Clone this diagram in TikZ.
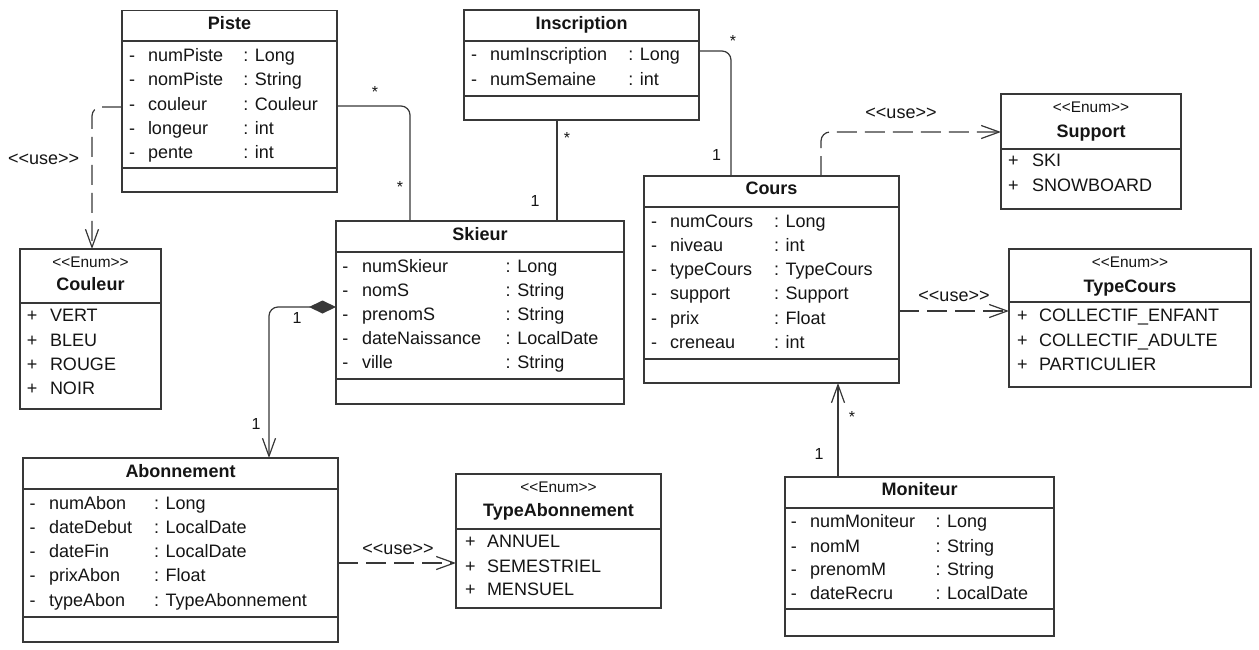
\documentclass[tikz,border=0pt]{standalone}
\usepackage{fontspec}
\setmainfont{Liberation Sans}
\usetikzlibrary{arrows.meta}
\definecolor{ln}{HTML}{383838}
\definecolor{tx}{HTML}{151515}
\newcount\txtcount
\tikzset{
  box/.style={draw=ln, line width=1.4pt, inner sep=0pt, outer sep=0pt, fill=white, anchor=north west},
  sepline/.style={draw=ln, line width=1.4pt},
  txt/.style={inner sep=0pt, outer sep=0pt, text=tx, font=\fontsize{18}{20}\selectfont, anchor=base west},
  ttl/.style={txt, font=\fontsize{18}{20}\selectfont\bfseries, anchor=base},
  ster/.style={txt, font=\fontsize{15.4}{17}\selectfont, anchor=base},
  mult/.style={txt, font=\fontsize{16}{18}\selectfont, anchor=base},
  uselbl/.style={txt, anchor=base},
  conn/.style={draw=ln, line width=1.2pt, rounded corners=9pt},
  opentip/.tip={Straight Barb[length=18pt, width=13pt, line width=1.2pt]},
  dep/.style={conn, dash pattern=on 20pt off 8pt, -opentip},
  nav/.style={conn, -opentip},
}
\newcommand\T[3][txt]{\global\advance\txtcount by 1 \node[#1] (t\the\txtcount) at #2 {#3};}
\newcommand\arow[7]{\T{(#1,{#4+6.5})}{-}\T{(#2,{#4+6.5})}{#5}\T{(#3,{#4+6.5})}{: #6}#7}
\newcommand\erow[4]{\T{(#1,{#3+6.5})}{+}\T{(#2,{#3+6.5})}{#4}}
\newcommand\cbox[7]{%
  \node[box, minimum width={#4-#2}, minimum height={#5-#3}] (#1) at (#2,#3) {};
  \draw[sepline] (#2,#6) -- (#4,#6);
  \draw[sepline] (#2,#7) -- (#4,#7);}
\newcommand\ebox[6]{%
  \node[box, minimum width={#4-#2}, minimum height={#5-#3}] (#1) at (#2,#3) {};
  \draw[sepline] (#2,#6) -- (#4,#6);}
\begin{document}
\begin{tikzpicture}[x=1pt, y=-1pt]
\fill[white] (0,0) rectangle (1259,649);
\useasboundingbox (0,0) rectangle (1259,649);

% ---------- Piste
\cbox{piste}{122}{10.7}{337}{192}{41}{168}
\T[ttl]{(229.5,29.8)}{Piste}
\arow{129}{148}{243.3}{55}{numPiste}{Long}{}
\arow{129}{148}{243.3}{79.3}{nomPiste}{String}{}
\arow{129}{148}{243.3}{103.6}{couleur}{Couleur}{}
\arow{129}{148}{243.3}{128}{longeur}{int}{}
\arow{129}{148}{243.3}{152.3}{pente}{int}{}

% ---------- Couleur
\ebox{couleur}{20}{249}{161}{409}{303}
\T[ster]{(90.5,267.5)}{<{}<Enum>{}>}
\T[ttl]{(90.5,290.5)}{Couleur}
\erow{27}{50}{315}{VERT}
\erow{27}{50}{340}{BLEU}
\erow{27}{50}{364}{ROUGE}
\erow{27}{50}{388}{NOIR}

% ---------- Inscription
\cbox{inscription}{464}{10}{699}{120}{41}{96}
\T[ttl]{(581.5,29.5)}{Inscription}
\arow{471}{490}{628.3}{54}{numInscription}{Long}{}
\arow{471}{490}{628.3}{79}{numSemaine}{int}{}

% ---------- Skieur
\cbox{skieur}{336}{221}{624}{404}{252}{379}
\T[ttl]{(480,240.5)}{Skieur}
\arow{342.3}{362}{505.7}{266}{numSkieur}{Long}{}
\arow{342.3}{362}{505.7}{290}{nomS}{String}{}
\arow{342.3}{362}{505.7}{314}{prenomS}{String}{}
\arow{342.3}{362}{505.7}{338}{dateNaissance}{LocalDate}{}
\arow{342.3}{362}{505.7}{362}{ville}{String}{}

% ---------- Cours
\cbox{cours}{644}{176}{899}{383}{207}{359}
\T[ttl]{(771.5,194.5)}{Cours}
\arow{651}{670}{774}{221}{numCours}{Long}{}
\arow{651}{670}{774}{245}{niveau}{int}{}
\arow{651}{670}{774}{269}{typeCours}{TypeCours}{}
\arow{651}{670}{774}{293}{support}{Support}{}
\arow{651}{670}{774}{318}{prix}{Float}{}
\arow{651}{670}{774}{342}{creneau}{int}{}

% ---------- Support
\ebox{support}{1001}{94}{1181}{209}{149}
\T[ster]{(1091,112.5)}{<{}<Enum>{}>}
\T[ttl]{(1091,137.5)}{Support}
\erow{1008}{1032}{160}{SKI}
\erow{1008}{1032}{185}{SNOWBOARD}

% ---------- TypeCours
\ebox{typecours}{1009}{249}{1251}{387}{302}
\T[ster]{(1130,267.5)}{<{}<Enum>{}>}
\T[ttl]{(1130,292.5)}{TypeCours}
\erow{1017}{1039}{315}{COLLECTIF\_ENFANT}
\erow{1017}{1039}{340}{COLLECTIF\_ADULTE}
\erow{1017}{1039}{364}{PARTICULIER}

% ---------- Abonnement
\cbox{abonnement}{23}{458}{338}{642}{489}{617}
\T[ttl]{(180.5,477.5)}{Abonnement}
\arow{29.5}{49}{154}{503}{numAbon}{Long}{}
\arow{29.5}{49}{154}{527}{dateDebut}{LocalDate}{}
\arow{29.5}{49}{154}{551}{dateFin}{LocalDate}{}
\arow{29.5}{49}{154}{575}{prixAbon}{Float}{}
\arow{29.5}{49}{154}{600}{typeAbon}{TypeAbonnement}{}

% ---------- TypeAbonnement
\ebox{typeabonnement}{456}{474}{661}{608}{529}
\T[ster]{(558.5,492.5)}{<{}<Enum>{}>}
\T[ttl]{(558.5,516.5)}{TypeAbonnement}
\erow{465}{487}{541}{ANNUEL}
\erow{465}{487}{566}{SEMESTRIEL}
\erow{465}{487}{589}{MENSUEL}

% ---------- Moniteur
\cbox{moniteur}{785}{477}{1054}{636}{508}{609}
\T[ttl]{(919.5,495.5)}{Moniteur}
\arow{790.8}{810}{935.5}{521}{numMoniteur}{Long}{}
\arow{790.8}{810}{935.5}{546}{nomM}{String}{}
\arow{790.8}{810}{935.5}{569}{prenomM}{String}{}
\arow{790.8}{810}{935.5}{593}{dateRecru}{LocalDate}{}

% ---------- connectors
% Piste -> Couleur (use)
\draw[dep] ([yshift=-96.3pt]piste.north west) -| ([xshift=1.5pt]couleur.north);
\T[uselbl]{(43.7,164.5)}{<{}<use>{}>}

% Piste -- Skieur
\draw[conn] ([yshift=-95.3pt]piste.north east) -| ([xshift=74pt]skieur.north west);
\T[mult]{(375,97)}{*}
\T[mult]{(400,192)}{*}

% Inscription -- Skieur
\draw[conn] ([xshift=93pt]inscription.south west) -- ([xshift=221pt]skieur.north west);
\T[mult]{(567,143)}{*}
\T[mult]{(535,206)}{1}

% Inscription -- Cours
\draw[conn] ([yshift=-41pt]inscription.north east) -| ([xshift=87pt]cours.north west);
\T[mult]{(733,46)}{*}
\T[mult]{(716.5,160)}{1}

% Cours -> Support (use)
\draw[dep] ([xshift=177pt]cours.north west) |- ([yshift=-38pt]support.north west);
\T[uselbl]{(901,118.5)}{<{}<use>{}>}

% Cours -> TypeCours (use)
\draw[dep] ([yshift=-135pt]cours.north east) -- ([yshift=-62pt]typecours.north west);
\T[uselbl]{(954,301.5)}{<{}<use>{}>}

% Moniteur -> Cours
\draw[nav] ([xshift=53pt]moniteur.north west) -- ([xshift=194pt]cours.south west);
\T[mult]{(852,422)}{*}
\T[mult]{(819,459)}{1}

% Skieur <>-> Abonnement (composition)
\draw[conn, {Diamond[length=27pt, width=13pt]}-opentip] ([yshift=-86pt]skieur.north west) -| ([xshift=246pt]abonnement.north west);
\T[mult]{(297,323)}{1}
\T[mult]{(256,429)}{1}

% Abonnement -> TypeAbonnement (use)
\draw[dep] ([yshift=-105pt]abonnement.north east) -- ([yshift=-89pt]typeabonnement.north west);
\T[uselbl]{(398,554.5)}{<{}<use>{}>}
\end{tikzpicture}
\end{document}
